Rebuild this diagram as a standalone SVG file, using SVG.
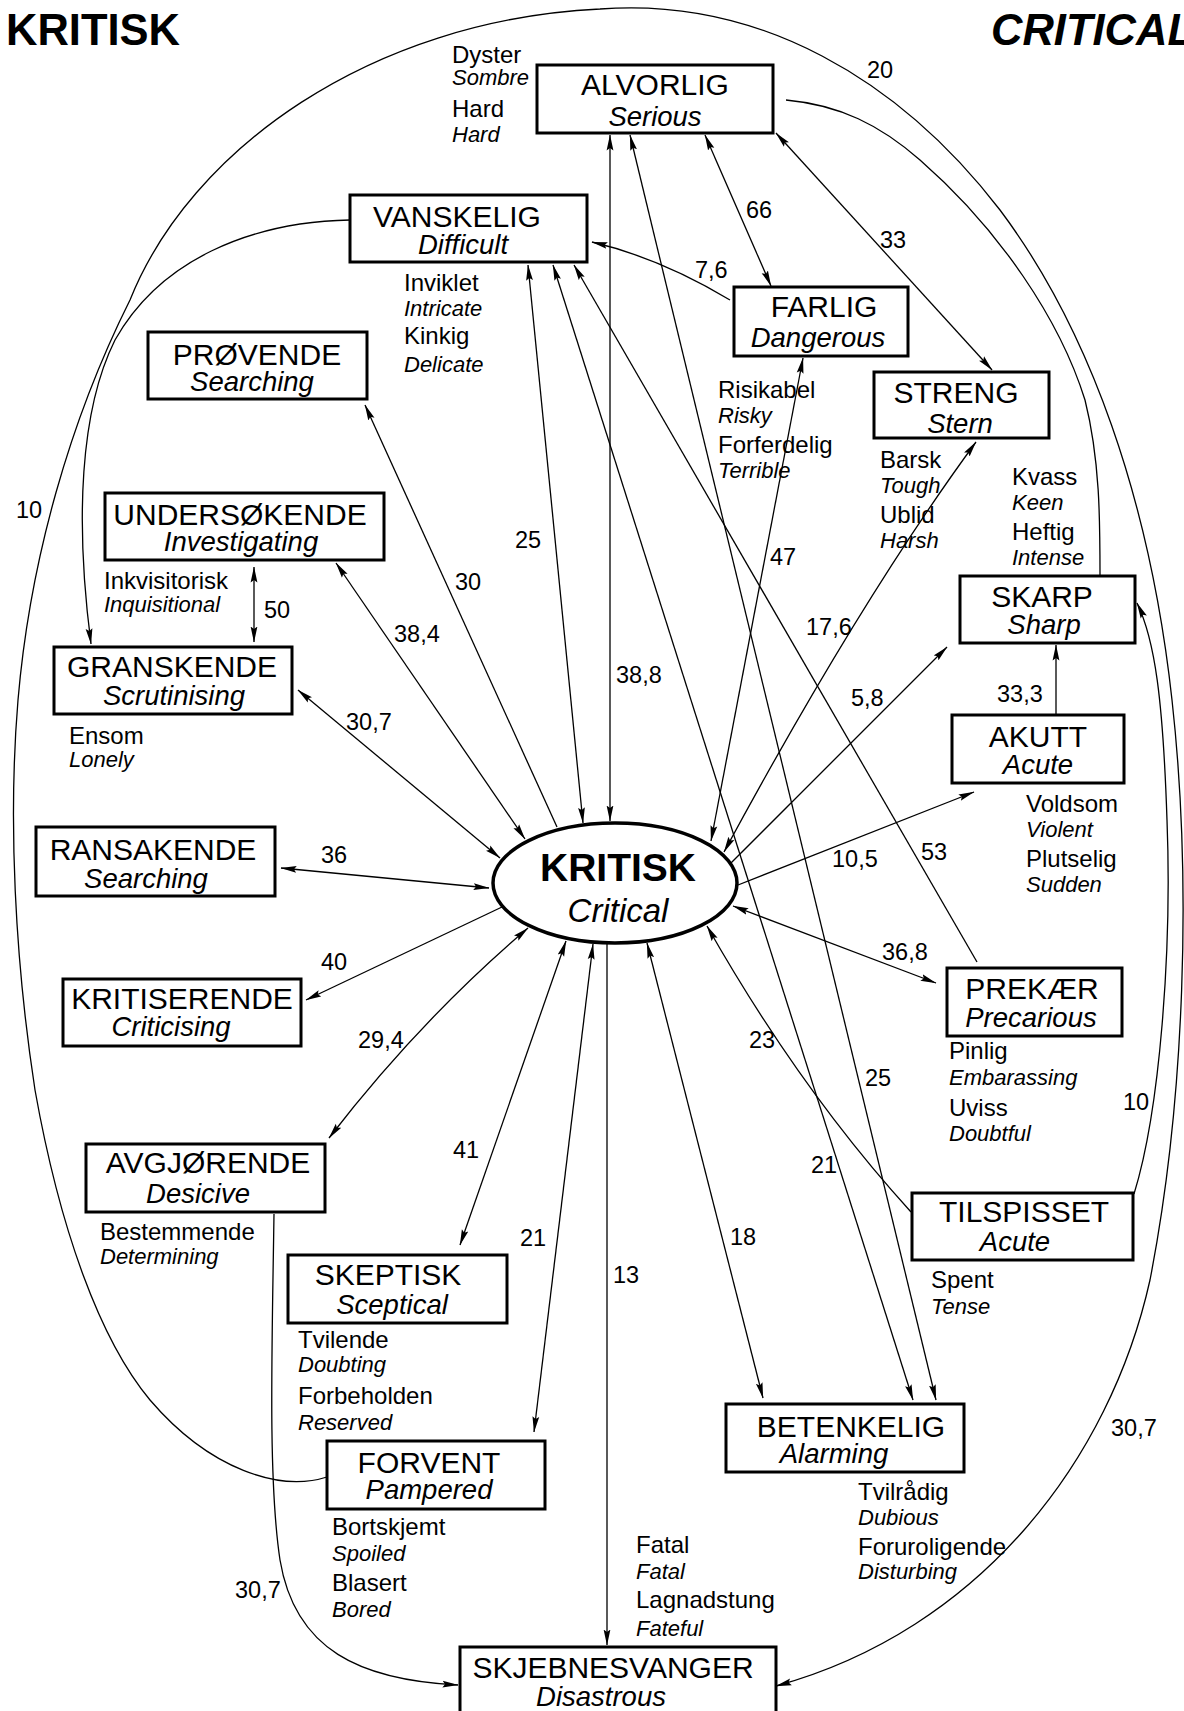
<svg xmlns="http://www.w3.org/2000/svg" width="1184" height="1711" viewBox="0 0 1184 1711">
<defs>
<marker id="ah" markerUnits="userSpaceOnUse" viewBox="0 0 16 8" refX="15.5" refY="4" markerWidth="16" markerHeight="8" orient="auto-start-reverse">
<path d="M0,0.6 L16,4 L0,7.4 L2.5,4 z" fill="#000"/>
</marker>
<style>
text{font-family:"Liberation Sans",Arial,sans-serif;fill:#000}
.box{fill:#fff;stroke:#000;stroke-width:3}
.t{font-size:30px;text-anchor:middle}
.s{font-size:27.5px;font-style:italic;text-anchor:middle}
.w{font-size:24px}
.i{font-size:22px;font-style:italic}
.n{font-size:23.5px}
.c{fill:none;stroke:#000;stroke-width:1.3}
.b{marker-start:url(#ah);marker-end:url(#ah)}
.e{marker-end:url(#ah)}
</style>
</defs>
<rect x="0" y="0" width="1184" height="1711" fill="#fff"/>
<text x="6" y="45" font-size="43.5" font-weight="bold">KRITISK</text>
<text x="991" y="45" font-size="43.5" font-weight="bold" font-style="italic">CRITICAL</text>

<g id="connectors">
<path class="c b" d="M610,135 L610,821"/>
<path class="c b" d="M630,135 L936,1400"/>
<path class="c b" d="M705,135 L771,286"/>
<path class="c b" d="M776,133 L992,370"/>
<path class="c e" d="M730,300 Q660,258 592,242"/>
<path class="c b" d="M528,265 L583,823"/>
<path class="c b" d="M553,265 L913,1400"/>
<path class="c e" d="M977,962 L574,265"/>
<path class="c b" d="M803,358 L711,841"/>
<path class="c b" d="M976,442 Q860,600 724,852"/>
<path class="c e" d="M731,863 L947,647"/>
<path class="c e" d="M738,885 L974,792"/>
<path class="c e" d="M1056,715 L1056,645"/>
<path class="c b" d="M936,983 L733,906"/>
<path class="c e" d="M911,1212 Q800,1090 707,926"/>
<path class="c b" d="M281,868 L489,888"/>
<path class="c e" d="M502,907 L306,1000"/>
<path class="c b" d="M528,928 Q420,1020 329,1138"/>
<path class="c b" d="M566,941 L460,1245"/>
<path class="c b" d="M593,944 L534,1432"/>
<path class="c e" d="M607,943 L607,1645"/>
<path class="c b" d="M647,943 L763,1398"/>
<path class="c b" d="M298,690 L500,858"/>
<path class="c b" d="M336,563 L525,839"/>
<path class="c e" d="M557,827 L365,405"/>
<path class="c b" d="M254,567 L254,642"/>
<path class="c e" d="M350,220 C250,222 160,260 115,340 C80,410 75,520 91,644"/>
<path class="c e" d="M327,1477 C280,1492 210,1470 150,1400 C100,1340 60,1230 35,1090 C15,960 8,820 18,700 C30,560 70,420 130,300 C190,150 370,20 600,9 C760,-3 900,80 1000,210 C1090,330 1150,500 1172,700 C1192,880 1185,1100 1150,1280 C1110,1460 980,1630 776,1686"/>
<path class="c" d="M786,100 C840,105 880,125 920,160 C1000,230 1060,320 1085,400 C1100,460 1100,520 1100,575"/>
<path class="c e" d="M1134,1194 C1160,1110 1172,950 1167,820 C1163,700 1155,640 1137,603"/>
<path class="c e" d="M274,1214 C272,1350 268,1480 280,1560 C295,1650 360,1680 458,1685"/>
</g>

<g id="labels">
<text class="n" x="867" y="78">20</text>
<text class="n" x="746" y="218">66</text>
<text class="n" x="880" y="248">33</text>
<text class="n" x="695" y="278">7,6</text>
<text class="n" x="16" y="518">10</text>
<text class="n" x="515" y="548">25</text>
<text class="n" x="455" y="590">30</text>
<text class="n" x="264" y="618">50</text>
<text class="n" x="394" y="642">38,4</text>
<text class="n" x="346" y="730">30,7</text>
<text class="n" x="770" y="565">47</text>
<text class="n" x="806" y="635">17,6</text>
<text class="n" x="616" y="683">38,8</text>
<text class="n" x="851" y="706">5,8</text>
<text class="n" x="997" y="702">33,3</text>
<text class="n" x="321" y="863">36</text>
<text class="n" x="832" y="867">10,5</text>
<text class="n" x="921" y="860">53</text>
<text class="n" x="321" y="970">40</text>
<text class="n" x="882" y="960">36,8</text>
<text class="n" x="358" y="1048">29,4</text>
<text class="n" x="749" y="1048">23</text>
<text class="n" x="865" y="1086">25</text>
<text class="n" x="1123" y="1110">10</text>
<text class="n" x="453" y="1158">41</text>
<text class="n" x="520" y="1246">21</text>
<text class="n" x="811" y="1173">21</text>
<text class="n" x="730" y="1245">18</text>
<text class="n" x="613" y="1283">13</text>
<text class="n" x="1111" y="1436">30,7</text>
<text class="n" x="235" y="1598">30,7</text>
</g>

<g id="kritisk">
<ellipse cx="615" cy="883" rx="122" ry="60" fill="#fff" stroke="#000" stroke-width="3.5"/>
<text x="618" y="881" font-size="39" font-weight="bold" text-anchor="middle">KRITISK</text>
<text x="618" y="922" font-size="33" font-style="italic" text-anchor="middle">Critical</text>
</g>

<g id="alvorlig">
<rect class="box" x="537" y="65" width="236" height="68"/>
<text class="t" x="655" y="95">ALVORLIG</text>
<text class="s" x="655" y="126">Serious</text>
<text class="w" x="452" y="63">Dyster</text>
<text class="i" x="452" y="85">Sombre</text>
<text class="w" x="452" y="117">Hard</text>
<text class="i" x="452" y="142">Hard</text>
</g>

<g id="vanskelig">
<rect class="box" x="350" y="195" width="237" height="67"/>
<text class="t" x="457" y="227">VANSKELIG</text>
<text class="s" x="463" y="254">Difficult</text>
<text class="w" x="404" y="291">Inviklet</text>
<text class="i" x="404" y="316">Intricate</text>
<text class="w" x="404" y="344">Kinkig</text>
<text class="i" x="404" y="372">Delicate</text>
</g>

<g id="farlig">
<rect class="box" x="734" y="287" width="174" height="69"/>
<text class="t" x="824" y="317">FARLIG</text>
<text class="s" x="818" y="347">Dangerous</text>
<text class="w" x="718" y="398">Risikabel</text>
<text class="i" x="718" y="423">Risky</text>
<text class="w" x="718" y="453">Forferdelig</text>
<text class="i" x="718" y="478">Terrible</text>
</g>

<g id="provende">
<rect class="box" x="148" y="332" width="219" height="67"/>
<text class="t" x="257" y="365">PRØVENDE</text>
<text class="s" x="252" y="391">Searching</text>
</g>

<g id="streng">
<rect class="box" x="874" y="372" width="175" height="66"/>
<text class="t" x="956" y="403">STRENG</text>
<text class="s" x="960" y="433">Stern</text>
<text class="w" x="880" y="468">Barsk</text>
<text class="i" x="880" y="493">Tough</text>
<text class="w" x="880" y="523">Ublid</text>
<text class="i" x="880" y="548">Harsh</text>
</g>

<g id="undersokende">
<rect class="box" x="105" y="493" width="279" height="67"/>
<text class="t" x="240" y="525">UNDERSØKENDE</text>
<text class="s" x="241" y="551">Investigating</text>
<text class="w" x="104" y="589">Inkvisitorisk</text>
<text class="i" x="104" y="612">Inquisitional</text>
</g>

<g id="granskende">
<rect class="box" x="54" y="647" width="238" height="67"/>
<text class="t" x="172" y="677">GRANSKENDE</text>
<text class="s" x="174" y="705">Scrutinising</text>
<text class="w" x="69" y="744">Ensom</text>
<text class="i" x="69" y="767">Lonely</text>
</g>

<g id="skarp">
<rect class="box" x="960" y="576" width="175" height="67"/>
<text class="t" x="1042" y="607">SKARP</text>
<text class="s" x="1044" y="634">Sharp</text>
<text class="w" x="1012" y="485">Kvass</text>
<text class="i" x="1012" y="510">Keen</text>
<text class="w" x="1012" y="540">Heftig</text>
<text class="i" x="1012" y="565">Intense</text>
</g>

<g id="akutt">
<rect class="box" x="952" y="715" width="172" height="68"/>
<text class="t" x="1038" y="747">AKUTT</text>
<text class="s" x="1038" y="774">Acute</text>
<text class="w" x="1026" y="812">Voldsom</text>
<text class="i" x="1026" y="837">Violent</text>
<text class="w" x="1026" y="867">Plutselig</text>
<text class="i" x="1026" y="892">Sudden</text>
</g>

<g id="ransakende">
<rect class="box" x="36" y="827" width="239" height="69"/>
<text class="t" x="153" y="860">RANSAKENDE</text>
<text class="s" x="146" y="888">Searching</text>
</g>

<g id="kritiserende">
<rect class="box" x="63" y="979" width="238" height="67"/>
<text class="t" x="182" y="1009">KRITISERENDE</text>
<text class="s" x="171" y="1036">Criticising</text>
</g>

<g id="prekaer">
<rect class="box" x="947" y="968" width="175" height="68"/>
<text class="t" x="1032" y="999">PREKÆR</text>
<text class="s" x="1031" y="1027">Precarious</text>
<text class="w" x="949" y="1059">Pinlig</text>
<text class="i" x="949" y="1085">Embarassing</text>
<text class="w" x="949" y="1116">Uviss</text>
<text class="i" x="949" y="1141">Doubtful</text>
</g>

<g id="avgjorende">
<rect class="box" x="86" y="1144" width="239" height="68"/>
<text class="t" x="208" y="1173">AVGJØRENDE</text>
<text class="s" x="198" y="1203">Desicive</text>
<text class="w" x="100" y="1240">Bestemmende</text>
<text class="i" x="100" y="1264">Determining</text>
</g>

<g id="tilspisset">
<rect class="box" x="912" y="1193" width="221" height="67"/>
<text class="t" x="1024" y="1222">TILSPISSET</text>
<text class="s" x="1015" y="1251">Acute</text>
<text class="w" x="931" y="1288">Spent</text>
<text class="i" x="931" y="1314">Tense</text>
</g>

<g id="skeptisk">
<rect class="box" x="288" y="1255" width="219" height="68"/>
<text class="t" x="388" y="1285">SKEPTISK</text>
<text class="s" x="392" y="1314">Sceptical</text>
<text class="w" x="298" y="1348">Tvilende</text>
<text class="i" x="298" y="1372">Doubting</text>
<text class="w" x="298" y="1404">Forbeholden</text>
<text class="i" x="298" y="1430">Reserved</text>
</g>

<g id="betenkelig">
<rect class="box" x="726" y="1404" width="238" height="68"/>
<text class="t" x="851" y="1437">BETENKELIG</text>
<text class="s" x="834" y="1463">Alarming</text>
<text class="w" x="858" y="1500">Tvilrådig</text>
<text class="i" x="858" y="1525">Dubious</text>
<text class="w" x="858" y="1555">Foruroligende</text>
<text class="i" x="858" y="1579">Disturbing</text>
</g>

<g id="forvent">
<rect class="box" x="327" y="1441" width="218" height="68"/>
<text class="t" x="429" y="1473">FORVENT</text>
<text class="s" x="429" y="1499">Pampered</text>
<text class="w" x="332" y="1535">Bortskjemt</text>
<text class="i" x="332" y="1561">Spoiled</text>
<text class="w" x="332" y="1591">Blasert</text>
<text class="i" x="332" y="1617">Bored</text>
</g>

<g id="skjebnesvanger">
<rect class="box" x="460" y="1647" width="316" height="80"/>
<text class="t" x="613" y="1678">SKJEBNESVANGER</text>
<text class="s" x="601" y="1706">Disastrous</text>
<text class="w" x="636" y="1553">Fatal</text>
<text class="i" x="636" y="1579">Fatal</text>
<text class="w" x="636" y="1608">Lagnadstung</text>
<text class="i" x="636" y="1636">Fateful</text>
</g>
</svg>
